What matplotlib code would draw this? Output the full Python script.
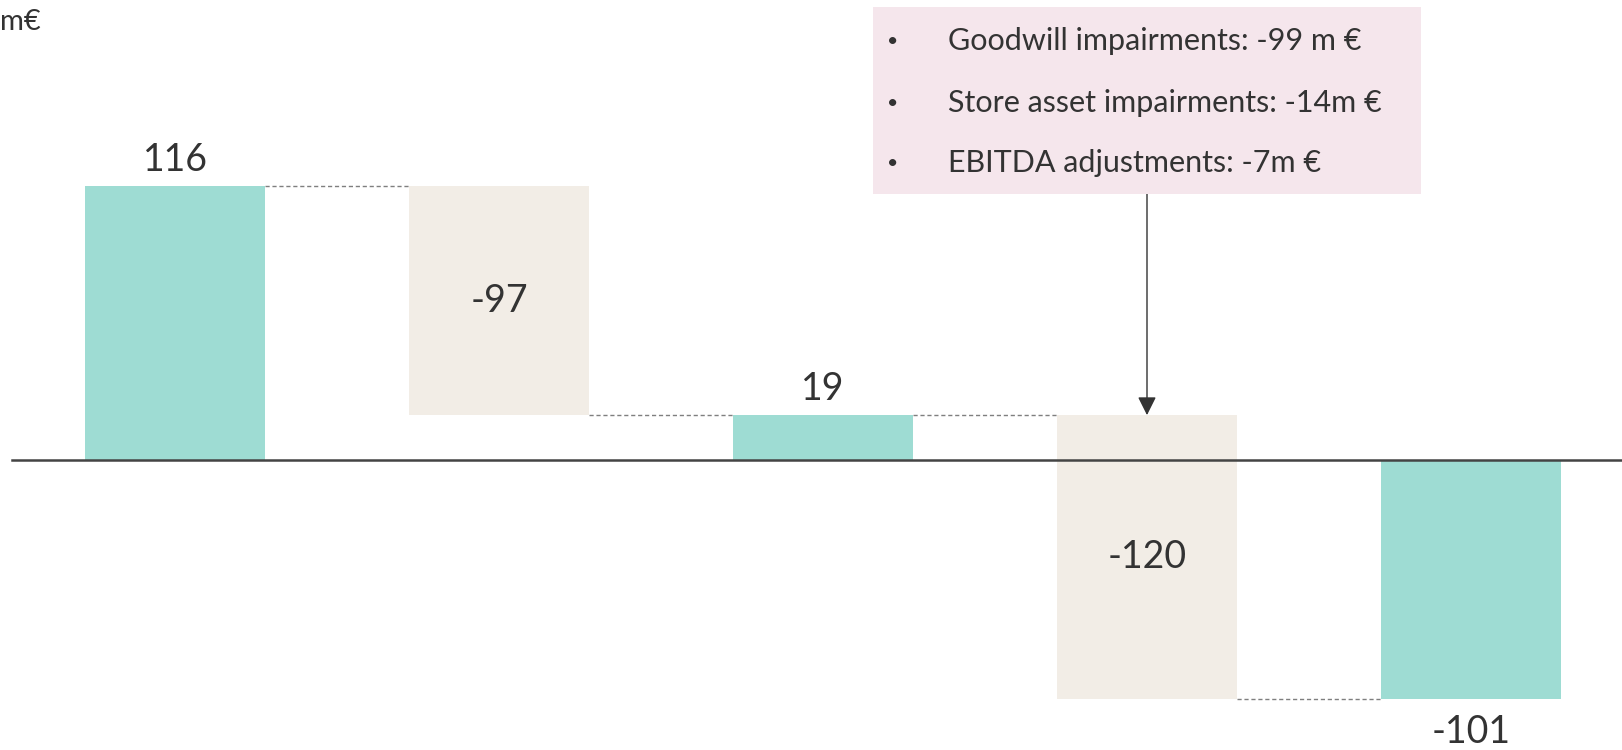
import numpy as np
import matplotlib.pyplot as plt
from matplotlib.patches import Rectangle

plt.rcParams['font.family'] = ['Lato', 'DejaVu Sans']

# waterfall data (m€)
steps = ["Start", "Change 1", "Subtotal", "Change 2", "End"]
values = [116, -97, 19, -120, -101]
is_total = [True, False, True, False, True]
label_pos = ["above", "inside", "above", "inside", "below"]

notes = ["Goodwill impairments: -99 m €",
         "Store asset impairments: -14m €",
         "EBITDA adjustments: -7m €"]

teal = "#9edcd3"
beige = "#f2ede6"
pink = "#f5e6ec"
txt = "#333333"

W, H = 1622, 750
fig = plt.figure(figsize=(W / 100, H / 100), dpi=100)
ax = fig.add_axes([0, 0, 1, 1])
ax.axis("off")

# pixel layout -> data limits
x0_px, dx_px = 175, 324
zero_px, ppu = 460, 2.362
ax.set_xlim(-x0_px / dx_px, (W - x0_px) / dx_px)
ax.set_ylim(-(H - zero_px) / ppu, zero_px / ppu)

# compute bar bottoms/tops
bottoms, tops = [], []
run = 0
for v, tot in zip(values, is_total):
    if tot:
        bottoms.append(min(0, v)); tops.append(max(0, v)); run = v
    else:
        new = run + v
        bottoms.append(min(run, new)); tops.append(max(run, new)); run = new

x = np.arange(len(values))
bw = 180 / dx_px
colors = [teal if t else beige for t in is_total]
ax.bar(x, np.array(tops) - np.array(bottoms), bottom=bottoms, width=bw,
       color=colors, zorder=2)

# zero line
ax.axhline(0, xmin=12 / W, xmax=1, color="#444444", lw=1.8, zorder=3)

# connectors
levels = []
run = 0
for v, tot in zip(values, is_total):
    run = v if tot else run + v
    levels.append(run)
for i in range(len(values) - 1):
    ax.plot([i + bw / 2, i + 1 - bw / 2], [levels[i], levels[i]],
            color="#7f7f7f", lw=1, dashes=(3, 2), zorder=1)

# value labels
for i, (v, pos) in enumerate(zip(values, label_pos)):
    if pos == "above":
        ax.text(i, tops[i] + 3.5, f"{v}", ha="center", va="bottom",
                fontsize=27, color=txt)
    elif pos == "below":
        ax.text(i, bottoms[i] - 6.5, f"{v}", ha="center", va="top",
                fontsize=27, color=txt)
    else:
        ax.text(i, (tops[i] + bottoms[i]) / 2, f"{v}", ha="center", va="center",
                fontsize=27, color=txt)

# unit label
fig.text(0 / W, 1 - 22 / H, "m€", ha="left", va="center", fontsize=21, color=txt)

# note box
bx0, bx1, by0, by1 = 873, 1421, 7, 194
fig.patches.append(Rectangle((bx0 / W, 1 - by1 / H), (bx1 - bx0) / W, (by1 - by0) / H,
                             transform=fig.transFigure, facecolor=pink,
                             edgecolor="none", zorder=0))
for yy, line in zip([41, 103, 163], notes):
    fig.text(893 / W, 1 - yy / H, "•", ha="center", va="center", fontsize=14, color=txt)
    fig.text(948 / W, 1 - yy / H, line, ha="left", va="center", fontsize=22,
             color=txt)

# arrow from box to bar
ax.annotate("", xy=(3, tops[3]), xycoords="data",
            xytext=(3, (zero_px - by1) / ppu), textcoords="data",
            arrowprops=dict(arrowstyle="-|>", color="#333333", lw=1,
                            mutation_scale=28, shrinkA=0, shrinkB=0))

fig.savefig("out.png", dpi=100)
